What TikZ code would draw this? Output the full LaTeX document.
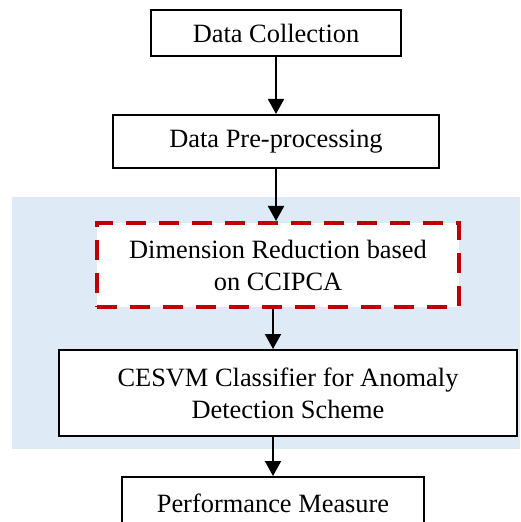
\documentclass[tikz,border=0pt]{standalone}
\usepackage{fontspec}
\setmainfont{Liberation Serif}
\usetikzlibrary{arrows.meta}
\definecolor{bandblue}{RGB}{222,234,246}
\definecolor{dashred}{RGB}{192,0,0}
\tikzset{%
  stepnode/.style = {shape=rectangle, draw, fill=white, align=center,%
                     line width=1pt, inner sep=0pt,%
                     font=\fontsize{13.2}{16}\selectfont},%
  keynode/.style  = {stepnode, draw=dashred, line width=2pt,%
                     dash pattern=on 10pt off 6.5pt},%
  flow/.style     = {-{Triangle[length=7.5pt,width=8pt]}, line width=1pt}%
}

\begin{document}
\begin{tikzpicture}[x=0.5pt,y=-0.5pt]
	\clip (0,0) rectangle (520,522);
	\useasboundingbox (0,0) rectangle (520,522);
	% shaded band behind the two core steps
	\fill [bandblue] (12,197) rectangle (520,449);
	\node [stepnode, minimum width=125pt, minimum height=23pt] (collect) at (276,33) {Data Collection};
	\node [stepnode, minimum width=163pt, minimum height=26.5pt] (preproc) at (276,141.5) {Data Pre-processing};
	\node [keynode, minimum width=181pt, minimum height=42pt] (reduce) at (278,265) {Dimension Reduction based\\on CCIPCA};
	\node [stepnode, minimum width=229pt, minimum height=43pt] (classify) at (288,393) {CESVM Classifier for Anomaly\\Detection Scheme};
	\node [stepnode, minimum width=151pt, minimum height=26pt] (measure) at (273,503) {Performance Measure};
	\draw [flow] (collect) -- (preproc);
	\draw [flow] (preproc) -- (reduce.north -| preproc);
	\draw [flow] (reduce.south -| measure) -- (classify.north -| measure);
	\draw [flow] (classify.south -| measure) -- (measure);
\end{tikzpicture}
\end{document}
